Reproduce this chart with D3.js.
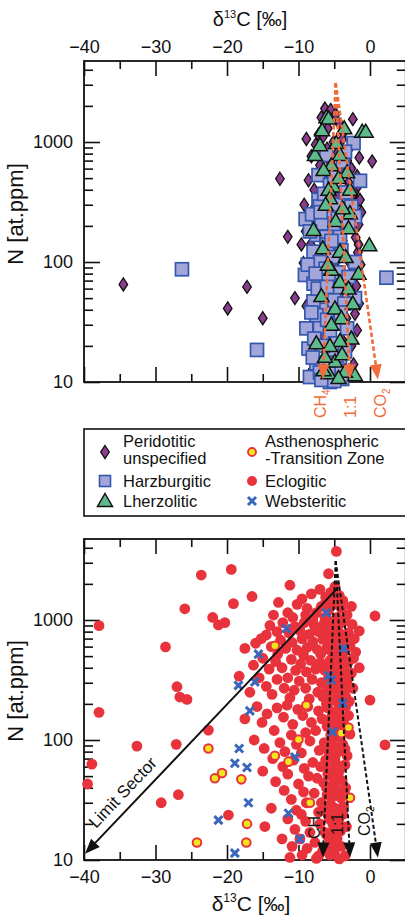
<!DOCTYPE html>
<html><head><meta charset="utf-8">
<script src="https://cdn.jsdelivr.net/npm/d3@7"></script>
<style>
body{margin:0;background:#fff;}
svg{display:block;font-family:"Liberation Sans",Arial,Helvetica,sans-serif;}
</style></head>
<body><svg id="c" width="405" height="919"></svg>
<script>
// ---------------- DATA ----------------
const xTicks = [-40, -30, -20, -10, 0];
const xMinor = [-35, -25, -15, -5];
const yTicks = [10, 100, 1000];
const yMinor = [20,30,40,50,60,70,80,90,200,300,400,500,600,700,800,900,2000,3000,4000];

// Top panel: peridotitic diamonds
const peridotitic = [
[-34.5,65],[-19.9,41],[-17.2,62],[-15,34],[-11.5,162],[-10.5,50],[-12.6,494],[-8.9,1060],[0.3,690],[-2.4,1550],[-1.5,740],
[-6.3,1900],[-5.5,1850],[-4.8,1700],[-6.8,1600],[-4.2,1400],[-5.9,1300],[-3.5,1250],[-7.2,1150],[-6.6,1100],[-3.9,1050],
[-5.1,1000],[-7.6,950],[-2.8,900],[-6.0,880],[-4.5,820],[-8.2,760],[-3.2,700],[-5.6,680],[-7.0,640],[-2.6,600],[-4.0,560],
[-6.5,520],[-8.6,480],[-3.0,460],[-5.3,430],[-1.8,420],[-7.8,400],[-2.2,380],[-4.6,350],[-6.9,330],[-1.9,310],[-3.4,290],
[-8.0,270],[-5.7,250],[-2.7,240],[-7.4,220],[-1.6,205],[-4.3,190],[-9.0,180],[-6.1,170],[-2.0,160],[-3.8,150],[-8.3,140],
[-5.0,130],[-1.7,120],[-7.1,112],[-3.1,105],[-9.3,98],[-4.9,92],[-2.4,85],[-6.7,80],[-8.6,74],[-3.6,68],[-1.9,63],[-5.8,58],
[-7.5,54],[-2.9,50],[-4.4,46],[-8.9,43],[-6.2,40],[-2.1,37],[-3.3,34],[-7.9,31],[-5.4,29],[-1.8,27],[-6.6,25],[-4.0,23],
[-8.2,21],[-2.6,20],[-5.1,18],[-3.7,16.5],[-7.3,15],[-2.3,14],[-6.0,13],[-4.6,12],[-8.5,11.5],[-3.2,11],[-5.5,10.5],
[-1.4,330],[-1.2,260],[-1.6,140],[-1.3,95],[-1.5,45],[-2.2,230],[-1.8,520],[-9.2,300],[-9.6,140]
];
// Top panel: harzburgitic squares
const harzburgitic = [
[-26.3,87],[-15.8,18.5],[2.3,74],[-2.3,980],[-1.4,475],[-7.2,530],[-6.1,780],[-9,228],[-9.1,78],[-8.9,28],[-8.4,11],
[-3.8,685],[-3.5,830],[-5.6,440],[-7.2,330],[-7,290],[-5.6,245],[-5.1,197],[-4.2,162],[-7.5,168],[-2.6,290],[-2.1,240],
[-7.9,122],[-7.9,66],[-4.7,57],[-2.1,100],[-2.1,50],[-8.6,19],[-7,29],[-5.6,25.5],[-5.4,16.8],[-4.2,11.4],[-5.6,10],
[-6.5,40],[-6.1,162],[-7.9,47],[-7.5,36],[-4.2,14.3],[-7.5,14.3],
[-6.4,370],[-4.8,300],[-3.4,380],[-8.1,250],[-6.8,210],[-4.5,230],[-3.0,200],[-8.4,180],[-6.0,140],[-4.0,125],[-5.2,110],
[-7.0,100],[-8.7,95],[-6.2,88],[-4.4,82],[-3.0,75],[-5.8,70],[-7.3,60],[-5.0,48],[-3.6,45],[-8.2,38],[-6.0,33],[-4.5,31],
[-3.2,28],[-7.8,23],[-6.6,20],[-4.9,21],[-3.5,18],[-8.0,16],[-6.2,14.5],[-4.7,13],[-7.0,12],[-5.8,11.8],[-3.9,10.6],
[-6.8,10.4],[-5.0,10.2],[-6.0,62],[-4.1,38],[-7.6,80],[-5.4,150],[-6.9,260],[-5.0,520]
];
// Top panel: lherzolitic triangles
const lherzolitic = [
[-6.1,1610],[-1.1,1220],[-0.6,1220],[-7.7,780],[-0.1,138],[-5.8,1570],[-4.7,980],[-5.4,640],[-6.5,585],[-2.8,400],
[-5.1,425],[-7.9,185],[-2.8,255],[-3.0,191],[-7.0,940],[-4.2,780],[-5.8,400],[-5.6,340],[-4.2,122],[-5.4,86],[-1.6,80],
[-4.2,68],[-4.9,41],[-4.0,34],[-5.4,30],[-2.6,23],[-4.2,22],[-4.9,14.8],[-2.1,11.4],[-6.3,16.2],[-7.5,21],[-3.5,12.2],
[-5.8,11.8],[-3.6,1300],[-6.7,1250],[-3.2,560],[-4.4,500],[-6.2,300],[-3.8,280],[-4.8,220],[-6.6,130],[-3.4,110],
[-5.9,95],[-3.0,60],[-6.8,52],[-2.4,45],[-5.6,20],[-3.9,17],[-6.5,12.5],[-4.4,10.8]
];

// Bottom panel: eclogitic circles
const eclogitic = [
[-37.9,897],[-25.9,1240],[-28.6,596],[-27,278],[-23.6,2370],[-26.6,228],[-25.6,218],[-37.9,170],[-32.6,89],[-27.1,92],
[-38.9,63],[-39.5,43],[-29.2,30],[-26.8,35],[-19.4,2640],[-19.1,1370],[-16.5,1570],[-11.2,1950],[-5.8,2430],[-4.7,3730],
[-22,1050],[-21.2,910],[-20.3,950],[-17.5,580],[-14.5,750],[0.7,1080],[-1.5,810],[-1.5,400],[-18.3,340],[0,215],[2.1,91],
[-14.7,19],[-19.8,23.7],[-7.5,10.3],[-22.6,121],
[-9.5,1500],[-8.2,1650],[-7.0,1800],[-6.2,1550],[-5.5,1700],[-4.9,1900],[-4.3,1600],[-3.8,1450],[-5.0,1350],[-6.8,1300],
[-8.8,1250],[-10.2,1350],[-11.5,1150],[-9.0,1100],[-7.5,1150],[-5.8,1200],[-4.0,1250],[-3.2,1100],[-2.6,1300],[-6.3,1050],
[-12.8,1400],[-13.5,1100],[-8.0,1000],[-4.6,1050],[-10.8,1050],
[-14.0,900],[-12.2,950],[-10.5,880],[-9.2,950],[-7.8,900],[-6.5,920],[-5.2,880],[-3.9,950],[-2.5,920],[-13.0,800],[-11.3,780],
[-9.8,820],[-8.5,760],[-7.2,800],[-5.9,760],[-4.4,800],[-3.0,780],[-2.2,700],[-15.2,700],[-12.5,680],[-10.9,650],[-9.5,700],
[-8.0,660],[-6.6,690],[-5.3,650],[-3.7,690],[-2.8,620],[-16.0,640],[-13.8,600],[-11.8,580],[-10.2,560],[-8.8,590],[-7.4,570],
[-6.0,590],[-4.7,560],[-3.4,580],[-2.0,540],[-12.9,520],[-9.3,510],[-6.9,520],[-5.1,505],[-3.9,510],
[-15.0,480],[-13.2,450],[-11.0,470],[-9.7,430],[-8.3,460],[-7.0,440],[-5.6,460],[-4.2,430],[-3.0,450],[-2.3,480],[-16.3,420],
[-14.1,390],[-12.3,400],[-10.4,380],[-8.9,370],[-7.6,390],[-6.3,380],[-5.0,370],[-3.6,390],[-2.6,360],[-15.5,330],[-13.0,320],
[-11.5,330],[-9.9,310],[-8.1,320],[-6.8,300],[-5.4,320],[-4.1,300],[-3.2,310],[-14.5,280],[-12.0,270],[-10.6,260],[-9.0,270],
[-7.3,250],[-6.0,265],[-4.7,250],[-3.5,260],[-2.4,270],[-16.8,250],[-13.7,240],[-11.2,225],[-8.5,220],[-6.6,230],[-5.2,215],
[-3.9,220],[-2.9,210],
[-15.8,190],[-13.0,185],[-11.6,195],[-10.1,180],[-8.7,190],[-7.2,175],[-5.9,185],[-4.5,175],[-3.4,190],[-14.4,165],[-12.1,155],
[-9.4,160],[-6.7,150],[-5.3,160],[-4.0,150],[-3.0,160],[-17.5,150],[-15.1,140],[-10.8,135],[-8.2,140],[-6.0,130],[-4.8,135],
[-3.6,128],[-13.4,120],[-11.0,110],[-9.0,115],[-7.6,120],[-5.5,110],[-4.2,105],[-2.8,112],[-16.2,100],[-12.6,95],[-10.3,92],
[-8.4,98],[-6.4,95],[-5.0,88],[-3.8,92],[-14.8,85],[-11.9,80],[-9.6,78],[-7.1,82],[-5.7,76],[-4.4,80],[-3.2,74],[-13.6,70],
[-10.7,68],[-8.0,65],[-6.2,68],[-4.8,64],[-3.5,62],[-12.2,60],[-9.2,58],[-6.9,60],
[-15.0,55],[-11.5,52],[-8.6,50],[-7.4,48],[-5.9,52],[-4.6,50],[-3.9,46],[-13.2,45],[-10.0,43],[-6.5,44],[-5.2,42],[-3.4,40],
[-12.0,38],[-9.3,37],[-7.8,36],[-6.0,35],[-4.9,36],[-4.1,33],[-11.0,32],[-8.9,30],[-6.8,30],[-5.5,29],[-3.7,28],[-13.8,27],
[-10.3,26],[-9.6,24],[-7.2,25],[-5.9,24],[-4.5,23],[-11.5,22],[-9.0,21],[-7.0,20],[-5.2,20],[-3.3,19],[-10.5,18],[-8.4,17],
[-6.3,17],[-4.8,16],[-12.3,15],[-9.8,15],[-7.7,14],[-5.6,14],[-4.0,13],[-10.9,13],[-8.8,12.5],[-6.6,12],[-5.0,11.5],[-9.5,11],
[-7.2,10.8],[-3.5,10.8],[-11.2,10.5],[-4.3,10.2],
[-6.2,1400],[-5.3,1500],[-4.4,1350],[-5.7,980],[-4.8,900],[-6.1,820],[-5.0,720],[-4.1,640],[-5.6,560],[-4.5,490],[-6.0,430],
[-5.0,400],[-4.3,340],[-5.8,330],[-4.9,280],[-5.5,240],[-4.4,200],[-6.1,200],[-5.0,170],[-5.8,145],[-4.6,120],[-5.3,100],
[-6.0,85],[-4.9,70],[-5.6,58],[-4.3,55],[-5.1,47],[-6.1,40],[-4.7,39],[-5.4,33],[-6.2,28],[-4.9,27],[-5.7,22],[-4.4,21],
[-5.1,18],[-6.0,16],[-4.6,15],[-5.4,13],[-6.2,12],[-4.8,12.8],[-5.6,11],[-4.1,17.5],[-3.8,24],[-3.6,36],[-3.9,60],[-3.5,84],
[-3.7,140],[-3.4,230],[-3.6,330],[-3.8,520],[-4.1,760],[-3.6,1000]
];
// Bottom panel: websteritic crosses
const websteritic = [
[-6.1,1150],[-11.7,850],[-15.6,520],[-18.4,285],[-16.1,305],[-16.8,175],[-18.3,85],[-18.9,64],[-17.2,59],[-17,30],[-21.2,21.5],
[-18.9,11.4],[-10.5,72],[-9.8,15],[-11.4,24.5],[-5.2,117],[-3.7,580],[-5.8,345],[-3.8,203],[-5.4,316]
];
// Bottom panel: asthenospheric-transition zone
const asthenospheric = [
[-13.3,610],[-24.2,14],[-22.6,85],[-20.7,53],[-21.7,48],[-18,47],[-17.2,20],[-17.3,14],[-13.3,74],[-10,101],[-8.4,30],
[-4,114],[-3,127],[-2.8,33],[-8.9,195],[-11.4,66]
];

// Mixing trends (apex -> end points) and limit sector
const apex = [-4.8, 3100];
const trendEnds = [{name:"CH4", x:-6.6, y:10.5}, {name:"1:1", x:-2.8, y:10.5}, {name:"CO2", x:1.1, y:10.5}];
const limitLine = [[-4.7, 1800], [-39.85, 11.3]];

// ---------------- DRAW ----------------
const svg = d3.select("#c");
const X0 = 84, X1 = 405.75;
const x = d3.scaleLinear().domain([-40, 5]).range([X0, X1]);
const yMax = Math.pow(10, 1 + 321/120);
const yTop = d3.scaleLog().domain([10, yMax]).range([382, 61]);
const yBot = d3.scaleLog().domain([10, yMax]).range([860, 539]);
const fmt = d3.format("d");
const ORANGE = "#f26b3a";

function frame(y, topLabels, bottomLabels) {
  const g = svg.append("g");
  const [b, t] = y.range();
  const at = d3.axisTop(x).tickValues(xTicks).tickSize(-15).tickPadding(8)
      .tickFormat(topLabels ? d3.format("d") : "");
  g.append("g").attr("transform", `translate(0,${t})`).call(at);
  g.append("g").attr("transform", `translate(0,${t})`)
    .call(d3.axisTop(x).tickValues(xMinor).tickSize(-8).tickFormat(""));
  const ab = d3.axisBottom(x).tickValues(xTicks).tickSize(-15).tickPadding(10)
      .tickFormat(bottomLabels ? d3.format("d") : "");
  g.append("g").attr("transform", `translate(0,${b})`).call(ab);
  g.append("g").attr("transform", `translate(0,${b})`)
    .call(d3.axisBottom(x).tickValues(xMinor).tickSize(-8).tickFormat(""));
  g.append("g").attr("transform", `translate(${X0},0)`)
    .call(d3.axisLeft(y).tickValues(yTicks).tickSize(-16).tickPadding(11).tickFormat(fmt));
  g.append("g").attr("transform", `translate(${X0},0)`)
    .call(d3.axisLeft(y).tickValues(yMinor).tickSize(-9).tickFormat(""));
  g.append("g").attr("transform", `translate(${X1},0)`)
    .call(d3.axisRight(y).tickValues(yTicks).tickSize(-16).tickFormat(""));
  g.append("g").attr("transform", `translate(${X1},0)`)
    .call(d3.axisRight(y).tickValues(yMinor).tickSize(-9).tickFormat(""));
  g.selectAll(".domain").remove();
  g.selectAll(".tick line").attr("stroke", "#111").attr("stroke-width", 1.6);
  g.selectAll(".tick text").attr("font-size", 18).attr("fill", "#111")
    .attr("font-family", "'Liberation Sans',Arial,sans-serif");
  g.append("rect").attr("x", X0).attr("y", t).attr("width", X1 - X0).attr("height", b - t)
    .attr("fill", "none").attr("stroke", "#111").attr("stroke-width", 1.8);
}

const diamondPath = (cx, cy) => `M${cx},${cy-6.5}L${cx+4.3},${cy}L${cx},${cy+6.5}L${cx-4.3},${cy}Z`;
const triPath = (cx, cy) => `M${cx},${cy-7.5}L${cx+7.5},${cy+5.5}L${cx-7.5},${cy+5.5}Z`;
const crossPath = (cx, cy) => `M${cx-4},${cy-4}L${cx+4},${cy+4}M${cx+4},${cy-4}L${cx-4},${cy+4}`;
const SQ = 13;

function drawDiamonds(g, data, y) {
  g.selectAll(null).data(data).join("path")
    .attr("d", d => diamondPath(x(d[0]), y(d[1])))
    .attr("fill", "#8a3d8e").attr("stroke", "#111").attr("stroke-width", 1.3);
}
function drawSquares(g, data, y) {
  g.selectAll(null).data(data).join("rect")
    .attr("x", d => x(d[0]) - SQ/2).attr("y", d => y(d[1]) - SQ/2)
    .attr("width", SQ).attr("height", SQ)
    .attr("fill", "#a3a6d8").attr("stroke", "#3457b0").attr("stroke-width", 1.7);
}
function drawTris(g, data, y) {
  g.selectAll(null).data(data).join("path")
    .attr("d", d => triPath(x(d[0]), y(d[1])))
    .attr("fill", "#5cba8c").attr("stroke", "#111").attr("stroke-width", 1.5);
}
function drawReds(g, data, y) {
  g.selectAll(null).data(data).join("circle")
    .attr("cx", d => x(d[0])).attr("cy", d => y(d[1])).attr("r", 5.4)
    .attr("fill", "#e8323c");
}
function drawYellows(g, data, y) {
  g.selectAll(null).data(data).join("circle")
    .attr("cx", d => x(d[0])).attr("cy", d => y(d[1])).attr("r", 4.3)
    .attr("fill", "#f4e41c").attr("stroke", "#e8323c").attr("stroke-width", 2);
}
function drawCrosses(g, data, y) {
  g.selectAll(null).data(data).join("path")
    .attr("d", d => crossPath(x(d[0]), y(d[1])))
    .attr("stroke", "#3a67bb").attr("stroke-width", 3).attr("fill", "none");
}

function arrowHead(g, x1, y1, x2, y2, color, len, hw) {
  const a = Math.atan2(y2 - y1, x2 - x1);
  const bx = x2 - len * Math.cos(a), by = y2 - len * Math.sin(a);
  const px = -Math.sin(a) * hw, py = Math.cos(a) * hw;
  g.append("path").attr("d", `M${x2},${y2}L${bx+px},${by+py}L${bx-px},${by-py}Z`).attr("fill", color);
}

function trends(y, color, width, dash) {
  const g = svg.append("g");
  trendEnds.forEach(e => {
    const x1 = x(apex[0]), y1 = y(apex[1]), x2 = x(e.x), y2 = y(e.y);
    const a = Math.atan2(y2 - y1, x2 - x1);
    g.append("line").attr("x1", x1).attr("y1", y1)
      .attr("x2", x2 - 12 * Math.cos(a)).attr("y2", y2 - 12 * Math.sin(a))
      .attr("stroke", color).attr("stroke-width", width).attr("stroke-dasharray", dash);
    arrowHead(g, x1, y1, x2, y2, color, 15, 6);
  });
  return g;
}

function subLabel(g, px, py, main, sub, color) {
  const t = g.append("text").attr("transform", `translate(${px},${py}) rotate(-90)`)
    .attr("font-size", 16).attr("fill", color);
  t.append("tspan").text(main);
  if (sub) t.append("tspan").attr("font-size", 10).attr("dy", 4).text(sub);
}

// ---------- Top panel ----------
frame(yTop, true, false);
const gT = svg.append("g");
drawDiamonds(gT, peridotitic, yTop);
drawSquares(gT, harzburgitic, yTop);
drawTris(gT, lherzolitic, yTop);
const tr1 = trends(yTop, ORANGE, 2.6, "4.5,2.5");
subLabel(tr1, 326, 418, "CH", "4", ORANGE);
subLabel(tr1, 356, 418, "1:1", null, ORANGE);
subLabel(tr1, 386, 418, "CO", "2", ORANGE);

const tt = svg.append("text").attr("x", 250).attr("y", 26).attr("text-anchor", "middle")
  .attr("font-size", 20).attr("fill", "#111");
tt.append("tspan").text("δ");
tt.append("tspan").attr("font-size", 11).attr("dy", -8).text("13");
tt.append("tspan").attr("dy", 8).text("C [‰]");

[[yTop, 214], [yBot, 691]].forEach(([y, cy]) => {
  svg.append("text").attr("transform", `translate(23,${cy}) rotate(-90)`)
    .attr("text-anchor", "middle").attr("font-size", 22).attr("fill", "#111").text("N [at.ppm]");
});

// ---------- Legend ----------
const lg = svg.append("g");
lg.append("rect").attr("x", 84).attr("y", 429).attr("width", 322).attr("height", 87)
  .attr("fill", "#fff").attr("stroke", "#111").attr("stroke-width", 1.6);
lg.append("path").attr("d", diamondPath(105, 452)).attr("fill", "#8a3d8e").attr("stroke", "#111").attr("stroke-width", 1.3);
lg.append("rect").attr("x", 99.5).attr("y", 475.5).attr("width", 11).attr("height", 11)
  .attr("fill", "#a3a6d8").attr("stroke", "#3457b0").attr("stroke-width", 1.6);
lg.append("path").attr("d", triPath(105, 501)).attr("fill", "#5cba8c").attr("stroke", "#111").attr("stroke-width", 1.5);
lg.append("circle").attr("cx", 252).attr("cy", 452).attr("r", 4)
  .attr("fill", "#f4e41c").attr("stroke", "#e8323c").attr("stroke-width", 1.8);
lg.append("circle").attr("cx", 252).attr("cy", 481).attr("r", 5).attr("fill", "#e8323c");
lg.append("path").attr("d", crossPath(252, 501)).attr("stroke", "#3a67bb").attr("stroke-width", 3);
const legendText = [
  [123, 447, "Peridotitic"], [123, 464, "unspecified"], [123, 487, "Harzburgitic"], [123, 507, "Lherzolitic"],
  [265, 447, "Asthenospheric"], [265, 464, "-Transition Zone"], [265, 487, "Eclogitic"], [265, 507, "Websteritic"]
];
lg.selectAll(null).data(legendText).join("text")
  .attr("x", d => d[0]).attr("y", d => d[1]).attr("font-size", 16.5).attr("fill", "#111").text(d => d[2]);

// ---------- Bottom panel ----------
frame(yBot, false, true);
const gB = svg.append("g");
drawReds(gB, eclogitic, yBot);
drawCrosses(gB, websteritic, yBot);
drawYellows(gB, asthenospheric, yBot);
const tr2 = trends(yBot, "#111", 2, "4,2.5");
{
  const x1 = x(limitLine[0][0]), y1 = yBot(limitLine[0][1]);
  const x2 = x(limitLine[1][0]), y2 = yBot(limitLine[1][1]);
  const a = Math.atan2(y2 - y1, x2 - x1);
  tr2.append("line").attr("x1", x1).attr("y1", y1)
    .attr("x2", x2 - 12 * Math.cos(a)).attr("y2", y2 - 12 * Math.sin(a))
    .attr("stroke", "#111").attr("stroke-width", 2);
  arrowHead(tr2, x1, y1, x2, y2, "#111", 15, 6);
  const ang = Math.atan2(y1 - y2, x1 - x2) * 180 / Math.PI;
  tr2.append("text").attr("transform", `translate(96,829) rotate(${ang})`)
    .attr("font-size", 17).attr("fill", "#111").text("Limit Sector");
}
subLabel(tr2, 320, 839, "CH", "4", "#111");
subLabel(tr2, 343, 835, "1:1", null, "#111");
subLabel(tr2, 370, 836, "CO", "2", "#111");

const bt = svg.append("text").attr("x", 251).attr("y", 911).attr("text-anchor", "middle")
  .attr("font-size", 21).attr("fill", "#111");
bt.append("tspan").text("δ");
bt.append("tspan").attr("font-size", 12).attr("dy", -9).text("13");
bt.append("tspan").attr("dy", 9).text("C [‰]");
</script></body></html>
